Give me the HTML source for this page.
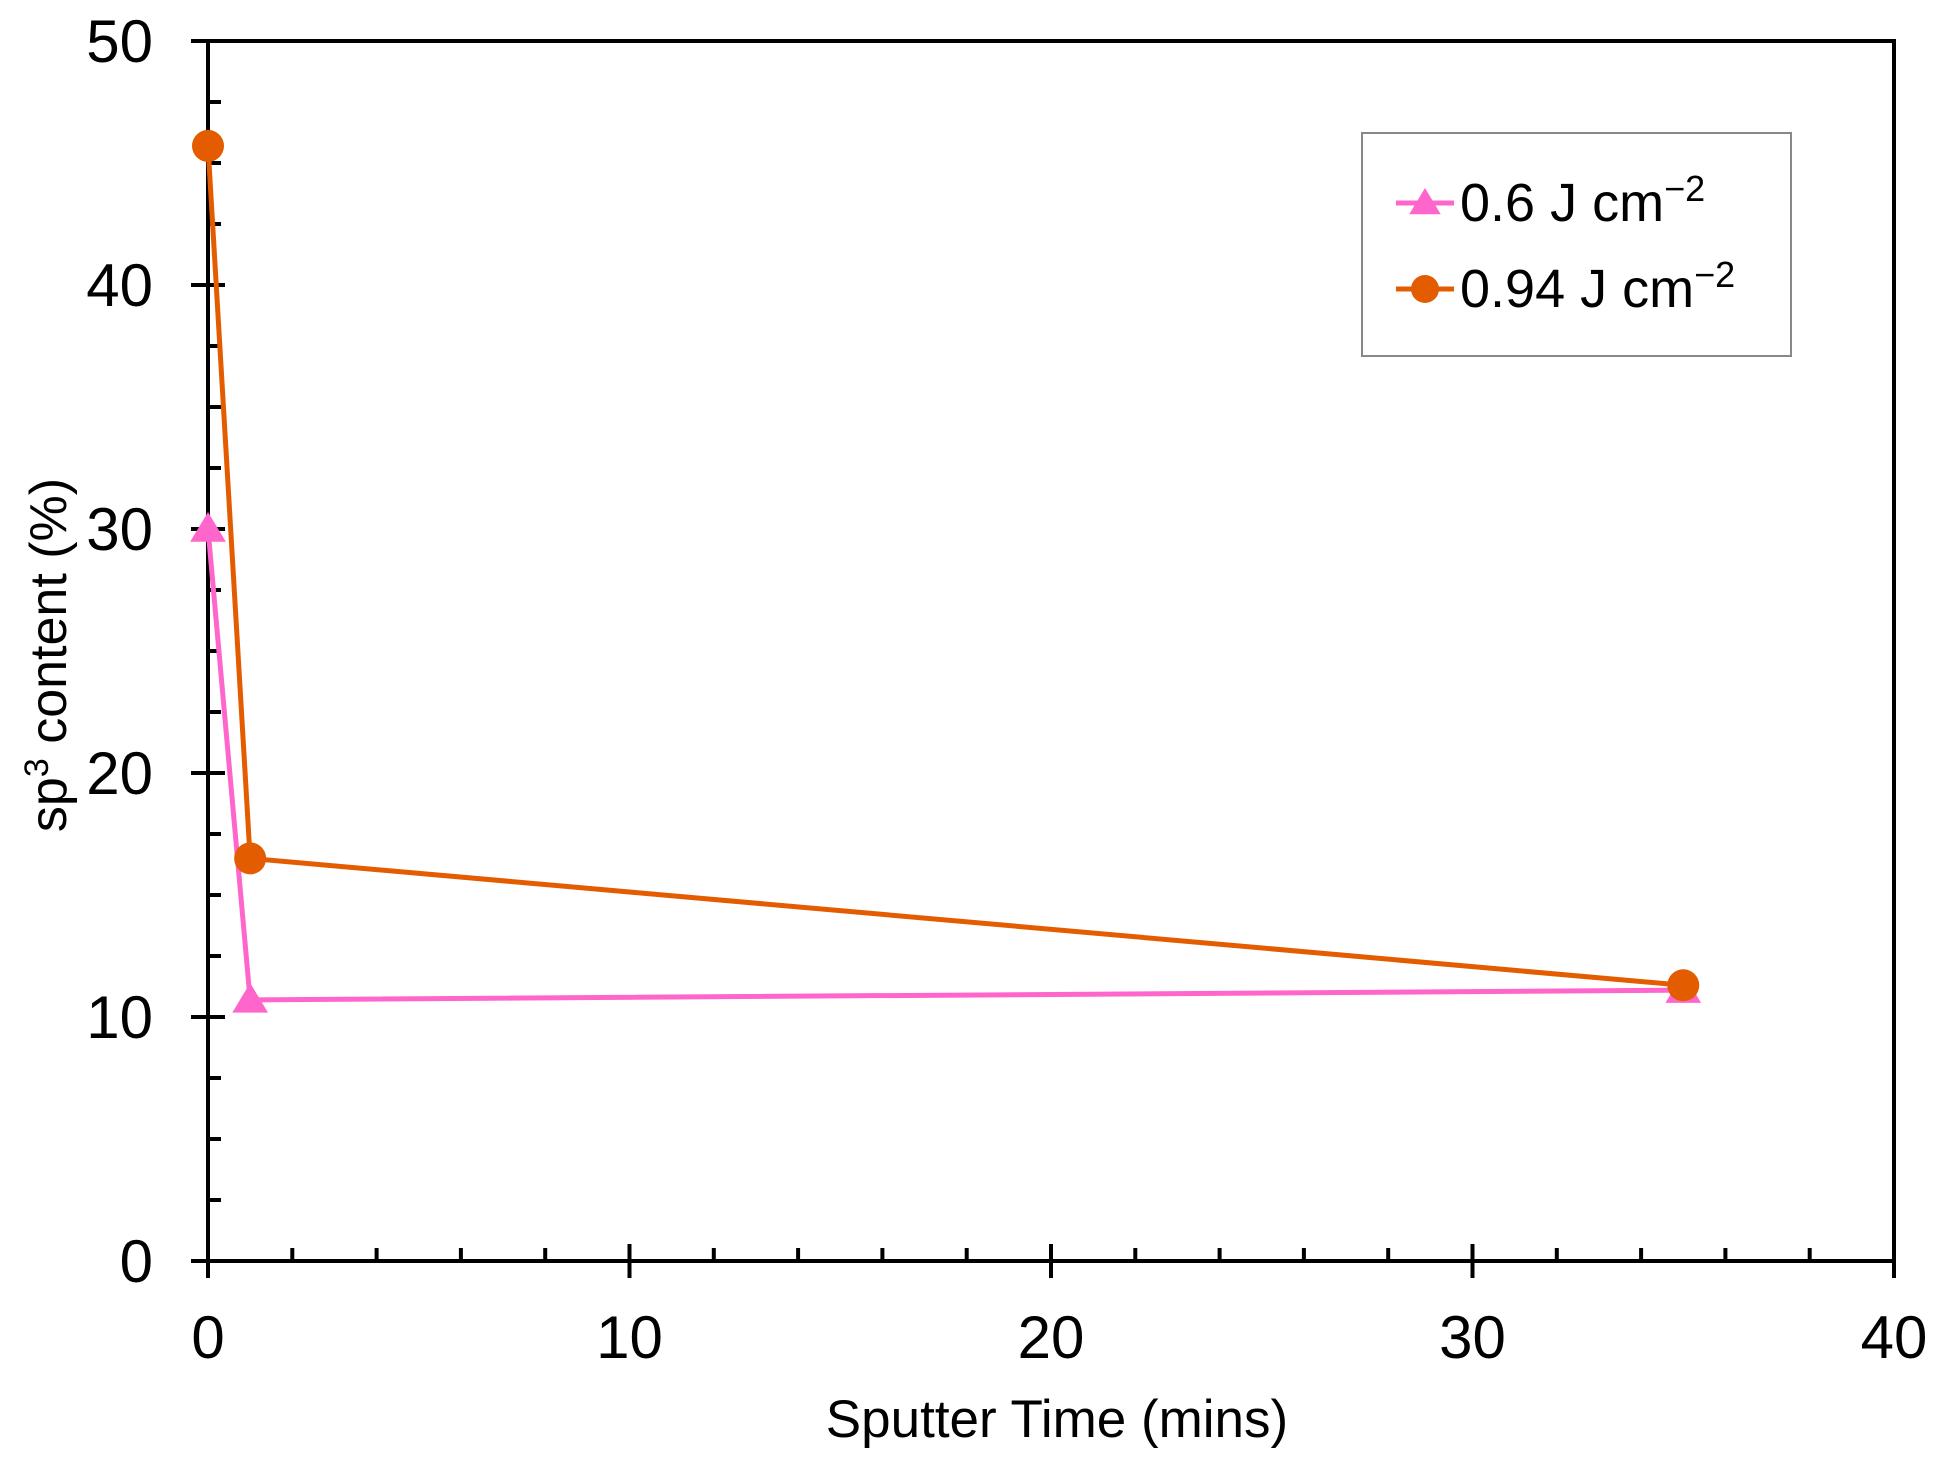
<!DOCTYPE html>
<html><head><meta charset="utf-8"><style>
html,body{margin:0;padding:0;background:#fff}
svg{display:block;font-family:"Liberation Sans",Arial,sans-serif}
</style></head><body>
<svg id="chart" width="1946" height="1460" viewBox="0 0 1946 1460" xmlns="http://www.w3.org/2000/svg"></svg>
<script>
const xTicks=[0,10,20,30,40];
const yTicks=[0,10,20,30,40,50];
const timesA=[0,1,35];
const valuesA=[30,10.7,11.1];
const timesB=[0,1,35];
const valuesB=[45.7,16.5,11.3];
const L=208,R=1894,T=41,B=1261;
const sx=v=>L+(v-0)/(40-0)*(R-L);
const sy=v=>B-(v-0)/(50-0)*(B-T);
const NS="http://www.w3.org/2000/svg";
const svg=document.getElementById('chart');
function mk(tag,attrs,parent){const e=document.createElementNS(NS,tag);for(const k in attrs)e.setAttribute(k,attrs[k]);(parent||svg).appendChild(e);return e;}
const frame=mk('rect',{x:L,y:T,width:R-L,height:B-T,fill:'none',stroke:'#000','stroke-width':4});


for(let v=0;v<=50;v+=2.5){
  const y=sy(v);const major=v%10===0;
  const t=mk('line',{x1:major?L-17:L,x2:L+(major?17:13),y1:y,y2:y,stroke:'#000','stroke-width':4});
  
  
}
yTicks.forEach(v=>{const t=mk('text',{x:153,y:sy(v)+21,'text-anchor':'end','font-size':60,fill:'#000'});t.textContent=v;
  
  });
for(let v=0;v<=40;v+=2){
  const x=sx(v);const major=v%10===0;
  const t=mk('line',{x1:x,x2:x,y1:B-(major?17:13),y2:major?B+17:B,stroke:'#000','stroke-width':4});
  
  
}
xTicks.forEach(v=>{const t=mk('text',{x:sx(v),y:1358,'text-anchor':'middle','font-size':60,fill:'#000'});t.textContent=v;
  
  });
const xt=mk('text',{x:1057,y:1437,'text-anchor':'middle','font-size':53,fill:'#000'});xt.textContent='Sputter Time (mins)';


const yt=mk('text',{x:0,y:0,'text-anchor':'middle','font-size':52,fill:'#000',transform:'translate(66,655) rotate(-90)'});
yt.innerHTML='sp<tspan dy="-18" font-size="34">3</tspan><tspan dy="18"> content  (%)</tspan>';


function tri(x,y,s,c){return mk('polygon',{points:`${x},${y-s} ${x-s*1.05},${y+s*0.75} ${x+s*1.05},${y+s*0.75}`,fill:c});}
const pink='#ff66cc',orange='#e35c00';
const pl=mk('polyline',{points:timesA.map((t,i)=>sx(t)+','+sy(valuesA[i])).join(' '),fill:'none',stroke:pink,'stroke-width':5});


timesA.forEach((t,i)=>{const m=tri(sx(t),sy(valuesA[i]),17,pink);
  
  });
const ol=mk('polyline',{points:timesB.map((t,i)=>sx(t)+','+sy(valuesB[i])).join(' '),fill:'none',stroke:orange,'stroke-width':5});


timesB.forEach((t,i)=>{const m=mk('circle',{cx:sx(t),cy:sy(valuesB[i]),r:16,fill:orange});
  
  });
const lg=mk('g',{transform:'translate(-8,0)'});


mk('rect',{x:1370,y:133,width:429,height:223,fill:'#fff',stroke:'#888','stroke-width':2},lg);
const e1=mk('g',{},lg);


mk('line',{x1:1404,x2:1462,y1:203,y2:203,stroke:pink,'stroke-width':5},e1);
const tr=tri(1433,203,15,pink);e1.appendChild(tr);
const t1=mk('text',{x:1468,y:221,'font-size':54,fill:'#000'},e1);
t1.innerHTML='0.6 J  cm<tspan dy="-20" font-size="36">−2</tspan>';
const e2=mk('g',{},lg);


mk('line',{x1:1404,x2:1462,y1:289,y2:289,stroke:orange,'stroke-width':5},e2);
mk('circle',{cx:1433,cy:289,r:14,fill:orange},e2);
const t2=mk('text',{x:1468,y:307,'font-size':54,fill:'#000'},e2);
t2.innerHTML='0.94 J cm<tspan dy="-20" font-size="36">−2</tspan>';
</script>
</body></html>
